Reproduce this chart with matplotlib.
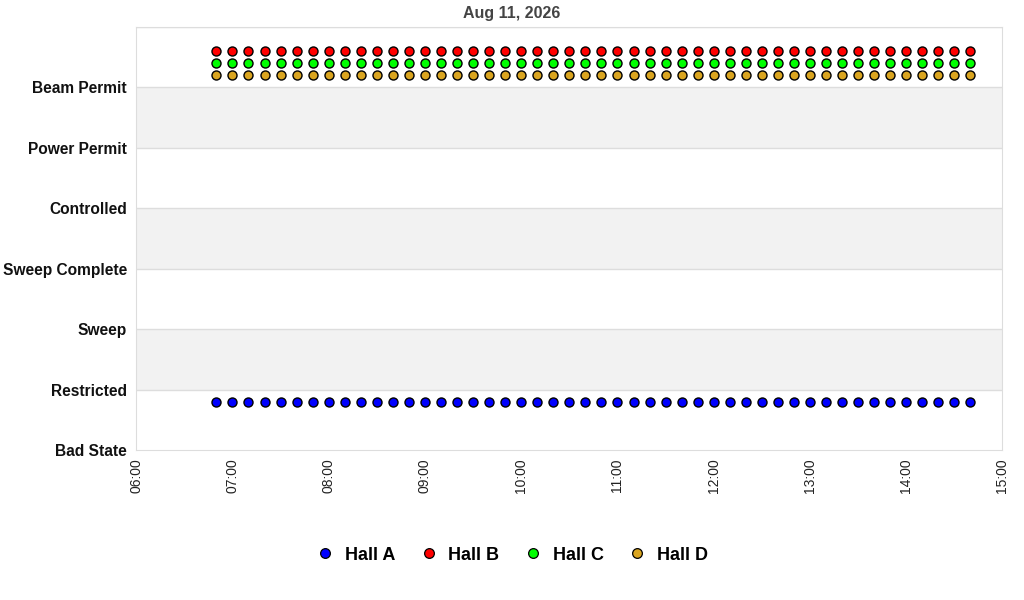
import matplotlib
matplotlib.use('Agg')
import matplotlib.pyplot as plt
import matplotlib.dates as mdates
import pandas as pd
from matplotlib.lines import Line2D

plt.rcParams['font.family'] = ['Liberation Sans', 'DejaVu Sans']

# state names, bottom to top
states = ['Bad State', 'Restricted', 'Sweep', 'Sweep Complete',
          'Controlled', 'Power Permit', 'Beam Permit']

halls = ['Hall A', 'Hall B', 'Hall C', 'Hall D']
colors = ['#0000ff', '#ff0000', '#00ff00', '#daa520']

# sample times (every 10 min)
times = ['06:50', '07:00', '07:10', '07:20', '07:30', '07:40', '07:50',
         '08:00', '08:10', '08:20', '08:30', '08:40', '08:50',
         '09:00', '09:10', '09:20', '09:30', '09:40', '09:50',
         '10:00', '10:10', '10:20', '10:30', '10:40', '10:50',
         '11:00', '11:10', '11:20', '11:30', '11:40', '11:50',
         '12:00', '12:10', '12:20', '12:30', '12:40', '12:50',
         '13:00', '13:10', '13:20', '13:30', '13:40', '13:50',
         '14:00', '14:10', '14:20', '14:30', '14:40']

hall_a = ['Bad State'] * len(times)
hall_b = ['Beam Permit'] * len(times)
hall_c = ['Beam Permit'] * len(times)
hall_d = ['Beam Permit'] * len(times)
series = [hall_a, hall_b, hall_c, hall_d]

day = '2026-08-11'
t = pd.to_datetime([day + ' ' + s for s in times])

fig = plt.figure(figsize=(10.24, 6.0), dpi=100)
ax = fig.add_axes([0.133, 0.25, 0.846, 0.705])

# alternating bands
for k in range(len(states)):
    if k % 2 == 1:
        ax.axhspan(k, k + 1, color='#f2f2f2', zorder=0, lw=0)
for k in range(1, len(states) + 1):
    ax.axhline(k, color='#dddddd', lw=1, zorder=1)

# each hall drawn with a small offset inside its state band
for i, (name, vals) in enumerate(zip(halls, series)):
    off = 0.8 if i == 0 else 0.8 - 0.2 * i
    y = [states.index(v) + off for v in vals]
    ax.plot(t, y, 'o', color=colors[i], mec='black', mew=1.0, ms=6.5, zorder=3)

ax.set_ylim(0, len(states))
ax.set_yticks(range(len(states)))
ax.set_yticklabels(states, fontsize=11.2, fontweight='bold', color='#111111')
ax.set_xlim(pd.Timestamp(day + ' 06:00'), pd.Timestamp(day + ' 15:00'))
ax.xaxis.set_major_locator(mdates.HourLocator())
ax.xaxis.set_major_formatter(mdates.DateFormatter('%H:%M'))
plt.setp(ax.get_xticklabels(), rotation=90, fontsize=10, color='#222222')
ax.tick_params(length=0, pad=6)
ax.tick_params(axis='y', pad=6.7)

for s in ax.spines.values():
    s.set_color('#dddddd')

fig.suptitle('Aug 11, 2026', x=0.5, y=0.978, va='center', fontsize=11.5,
             fontweight='bold', color='#444444')

handles = [Line2D([], [], ls='none', marker='o', color=c, mec='black', mew=0.9, ms=7)
           for c in colors]
fig.legend(handles, halls, loc='center', bbox_to_anchor=(0.5, 0.075), ncol=4, frameon=False,
           prop={'size': 13, 'weight': 'bold'}, handlelength=1.0, handletextpad=0.6,
           columnspacing=1.35)

fig.savefig('out.png', dpi=100)
